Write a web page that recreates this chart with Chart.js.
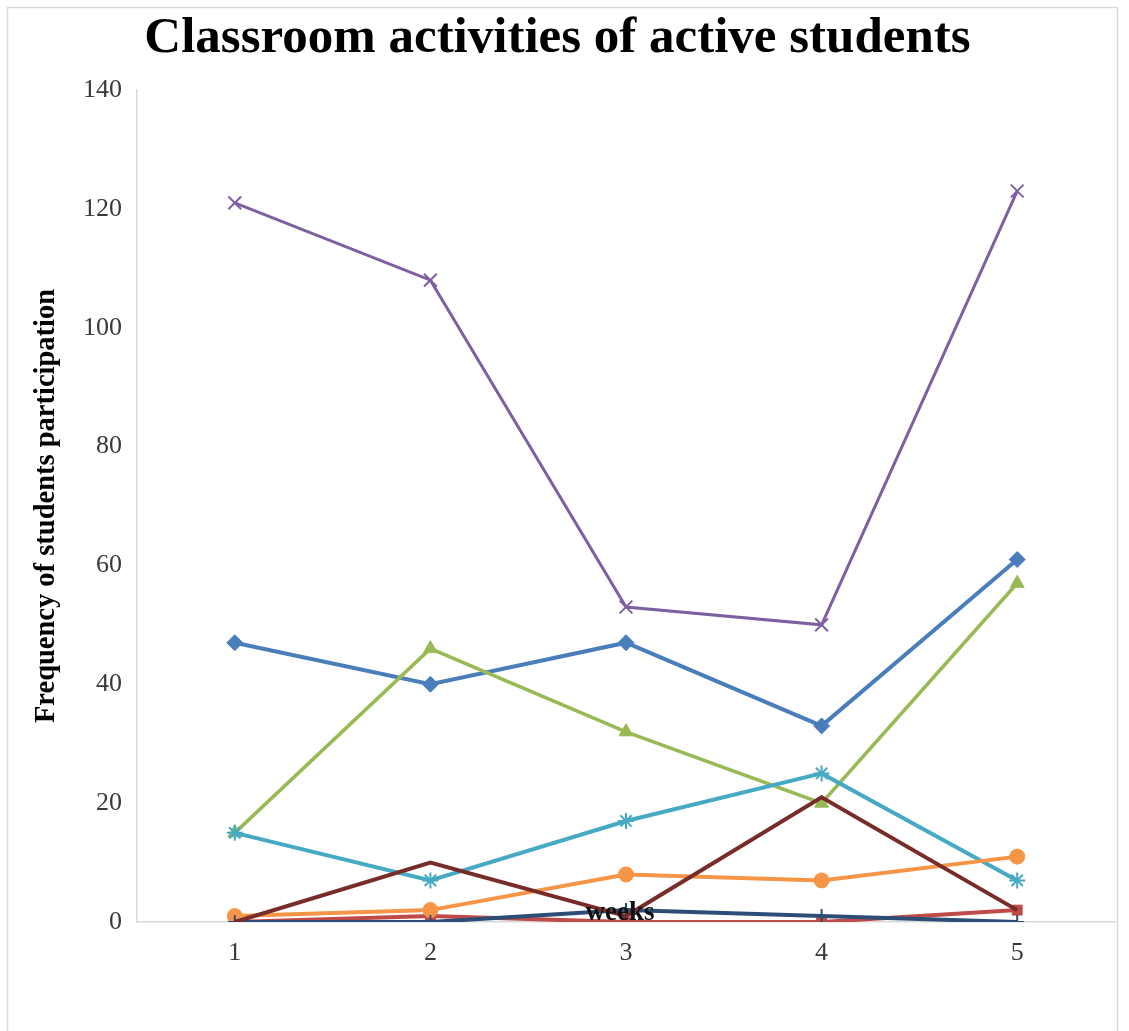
<!DOCTYPE html>
<html lang="en">
<head>
    <meta charset="UTF-8">
    <title>Classroom activities of active students</title>
    <script src="https://cdn.jsdelivr.net/npm/chart.js"></script>
    <style>
        body { margin: 0; padding: 0; overflow: hidden; background: white; }
        #wrap { width: 1129px; height: 1031px; position: relative; }
    </style>
</head>
<body>
    <div id="wrap">
        <canvas id="chart" width="1129" height="1031"></canvas>
    </div>

    <script>
        // data
        const weeks = ['1', '2', '3', '4', '5'];
        const seriesA = [47, 40, 47, 33, 61];     // blue, diamond
        const seriesB = [0, 1, 0, 0, 2];          // red, square
        const seriesC = [15, 46, 32, 20, 57];     // green, triangle
        const seriesD = [121, 108, 53, 50, 123];  // purple, x
        const seriesE = [15, 7, 17, 25, 7];       // cyan, star
        const seriesF = [1, 2, 8, 7, 11];         // orange, circle
        const seriesG = [0, 0, 2, 1, 0];          // navy, plus
        const seriesH = [0, 10, 1, 21, 2];        // dark red, no marker
        const yTicks = [0, 20, 40, 60, 80, 100, 120, 140];

        const serif = '"Liberation Serif", "Times New Roman", serif';

        const styles = [
            { data: seriesA, color: '#4A7EBB', marker: 'rectRot', r: 8, w: 4 },
            { data: seriesB, color: '#BE4B48', marker: 'rect', r: 7, w: 4 },
            { data: seriesC, color: '#98B954', marker: 'triangle', r: 8, w: 3.5 },
            { data: seriesD, color: '#7D60A0', marker: 'crossRot', r: 9, w: 3 },
            { data: seriesE, color: '#46AAC5', marker: 'star', r: 8, w: 4 },
            { data: seriesF, color: '#F69546', marker: 'circle', r: 7.5, w: 4 },
            { data: seriesG, color: '#2C4D75', marker: 'cross', r: 7, w: 4 },
            { data: seriesH, color: '#772C2A', marker: false, r: 0, w: 4 }
        ];

        const datasets = styles.map((s, i) => ({
            label: 'Series ' + (i + 1),
            data: s.data,
            borderColor: s.color,
            backgroundColor: s.color,
            borderWidth: s.w,
            pointStyle: s.marker,
            pointRadius: s.r,
            pointBorderWidth: s.marker === 'crossRot' || s.marker === 'cross' || s.marker === 'star' ? 2 : 1,
            pointBorderColor: s.color,
            pointBackgroundColor: s.color,
            tension: 0,
            fill: false,
            order: styles.length - i
        }));

        // light frame round the whole chart and the "weeks" label sitting on the axis
        const extras = {
            id: 'extras',
            beforeDraw(chart) {
                const ctx = chart.ctx;
                ctx.save();
                ctx.strokeStyle = '#d9d9d9';
                ctx.lineWidth = 1.5;
                ctx.strokeRect(7.5, 7.5, 1110, 1030);
                ctx.restore();
            },
            afterDatasetsDraw(chart) {
                const ctx = chart.ctx;
                const area = chart.chartArea;
                ctx.save();
                ctx.fillStyle = '#111';
                ctx.font = 'bold 27px ' + serif;
                ctx.textAlign = 'center';
                ctx.textBaseline = 'alphabetic';
                ctx.fillText('weeks', (area.left + area.right) / 2 - 6, area.bottom - 2);
                ctx.restore();
            }
        };

        function init() {
            const ctx = document.getElementById('chart').getContext('2d');
            new Chart(ctx, {
                type: 'line',
                data: { labels: weeks, datasets: datasets },
                options: {
                    responsive: false,
                    animation: false,
                    layout: { padding: { left: 0, right: 14, top: 0, bottom: 0 } },
                    plugins: {
                        legend: { display: false },
                        tooltip: { enabled: false },
                        title: {
                            display: true,
                            text: 'Classroom activities of active students',
                            color: '#000',
                            font: { family: serif, size: 51, weight: 'bold', lineHeight: 1.2 },
                            padding: { top: 8.5, bottom: 20.3 }
                        }
                    },
                    scales: {
                        x: {
                            offset: true,
                            grid: { display: false, drawTicks: false },
                            border: { display: true, color: '#d9d9d9', width: 1.5 },
                            ticks: { color: '#3a3a3a', font: { family: serif, size: 26 }, padding: 16 },
                            afterFit(scale) { scale.height = 109; }
                        },
                        y: {
                            min: 0,
                            max: 140,
                            afterBuildTicks(scale) { scale.ticks = yTicks.map(v => ({ value: v })); },
                            grid: { display: false, drawTicks: false },
                            border: { display: true, color: '#d9d9d9', width: 1.5 },
                            ticks: { color: '#3a3a3a', font: { family: serif, size: 26 }, padding: 15 },
                            title: {
                                display: true,
                                text: 'Frequency of students participation',
                                color: '#000',
                                font: { family: serif, size: 28.5, weight: 'bold', lineHeight: 1.2 },
                                padding: { top: 30, bottom: 0 }
                            },
                            afterFit(scale) { scale.width = 137; }
                        }
                    }
                },
                plugins: [extras]
            });
        }

        window.onload = init;
    </script>
</body>
</html>
